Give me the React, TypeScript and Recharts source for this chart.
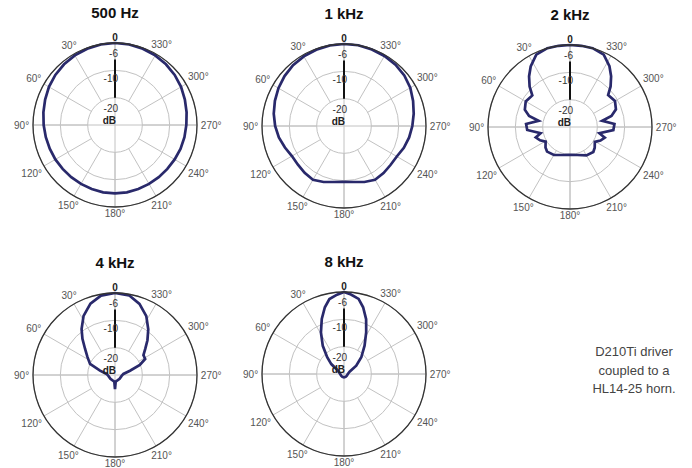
import React from "react";
import { RadarChart, Radar, PolarGrid, PolarAngleAxis, PolarRadiusAxis } from "recharts";

// angle ticks (deg, counter-clockwise from the top) and dB scale
const angleTicks = [0, 30, 60, 90, 120, 150, 180, 210, 240, 270, 300, 330];
const crossTicks = [0, 90, 180, 270];
const ringTicks = [-20, -10, 0];
const dbTicks = [-20, -10, -6];
const dbDomain = [-20, 0];

const angles10 = [
  0, 10, 20, 30, 40, 50, 60, 70, 80, 90, 100, 110, 120, 130, 140, 150, 160, 170,
  180, 190, 200, 210, 220, 230, 240, 250, 260, 270, 280, 290, 300, 310, 320, 330, 340, 350,
];

const db500 = [
  0, -0.1, -0.3, -0.6, -1.0, -1.5, -2.1, -2.8, -3.4, -3.9, -4.3, -4.6, -4.8, -5.0, -5.1, -5.1, -5.1, -5.0,
  -5.0, -5.0, -5.1, -5.1, -5.1, -5.0, -4.8, -4.5, -4.2, -3.9, -3.4, -2.8, -2.1, -1.5, -1.0, -0.6, -0.3, -0.1,
];

const db1k = [
  0, -0.1, -0.3, -0.6, -1.0, -1.6, -2.3, -3.1, -3.9, -4.8, -5.8, -7.0, -8.0, -8.0, -7.6, -7.3, -8.2, -9.2,
  -9.6, -9.2, -8.2, -7.3, -7.5, -7.8, -7.7, -6.7, -5.8, -5.0, -4.1, -3.1, -2.0, -1.2, -0.7, -0.4, -0.2, 0,
];

const angles2k = [
  0, 8, 16, 25, 33, 39, 45, 50, 60, 69, 75, 79, 86, 94, 102, 107, 114, 121, 130, 137, 150, 165,
  180, 195, 210, 223, 230, 239, 246, 253, 258, 266, 274, 281, 285, 291, 300, 310, 315, 321, 327, 335, 344, 352,
];
const db2k = [
  0, 0, 0, -0.8, -3.6, -6.2, -9.1, -12.0, -11.3, -12.3, -14.5, -18.3, -13.9, -14.3, -19.0, -16.9, -18.0, -19.6, -18.3, -17.7, -18.2, -19.4,
  -19.8, -19.4, -18.0, -17.5, -18.2, -19.4, -17.8, -16.7, -19.0, -14.1, -13.7, -18.0, -14.3, -12.0, -11.0, -11.8, -9.0, -6.1, -3.5, -0.8, 0, 0,
];

const angles4k = [
  0, 10, 19, 28, 36, 42, 49, 57, 66, 74, 83, 100, 130, 160, 174, 180,
  186, 200, 230, 260, 277, 286, 292, 298, 305, 311, 317, 324, 332, 341, 350,
];
const db4k = [
  0, -0.5, -2.4, -5.5, -9.2, -12.2, -15.5, -18.0, -20.0, -24.3, -26.9, -27.6, -27.8, -27.8, -27.6, -24.8,
  -27.6, -27.8, -27.8, -27.6, -26.9, -24.3, -20.2, -17.5, -17.3, -15.3, -12.6, -9.3, -5.6, -2.5, -0.4,
];

const angles8k = [
  0, 5, 11, 16, 22, 29, 37, 45, 52, 61, 90, 120, 150,
  180, 210, 240, 270, 292, 304, 314, 324, 332, 338, 344, 349, 355,
];
const db8k = [
  0, -0.85, -2.05, -4.6, -8.3, -12.6, -17.1, -21.3, -24.1, -27.5, -28.6, -28.8, -28.8,
  -28.8, -28.8, -28.8, -28.6, -27.8, -24.6, -21.2, -17.2, -12.7, -8.4, -4.6, -2.0, -0.8,
];

const noteLines = ["D210Ti driver", "coupled to a", "HL14-25 horn."];

const W = 230;
const H = 240;
const CX = 115;
const CY = 125;
const R = 82;
const R_IN = R / 3;
const FONT = "Arial, 'Liberation Sans', sans-serif";
const GRID = "#c2c2c2";
const TRACE = "#29296b";
const noMargin = { top: 0, right: 0, bottom: 0, left: 0 };

const toRows = (angles: number[], values: number[]) =>
  angles.map((a, i) => ({ angle: a, db: values[i] }));

function AngleTick(props: any) {
  const { x, y, payload } = props;
  const v = payload.value;
  const label = v === 0 ? "0" : `${v}°`;
  const rad = (payload.coordinate * Math.PI) / 180;
  const ux = Math.cos(rad);
  const uy = -Math.sin(rad);
  const off = Math.abs(ux) * label.length * 2.8 + Math.abs(uy) * 3;
  return (
    <text
      x={x + ux * off}
      y={y + uy * off}
      textAnchor="middle"
      dominantBaseline="central"
      fontSize={10}
      fontFamily={FONT}
      fontWeight={v === 0 ? "bold" : "normal"}
      fill={v === 0 ? "#222" : "#555"}
    >
      {label}
    </text>
  );
}

function DbTick(props: any) {
  const { x, y, payload } = props;
  const v = payload.value;
  const dy = v === -6 ? -6 : v === -10 ? 8 : 11;
  return (
    <g>
      <text x={x + 3} y={y + dy} textAnchor="end" dominantBaseline="central" fontSize={10} fontFamily={FONT} fill="#333">
        {v}
      </text>
      {v === -20 && (
        <text x={x + 1} y={y + dy + 12} textAnchor="end" dominantBaseline="central" fontSize={10} fontWeight="bold" fontFamily={FONT} fill="#222">
          dB
        </text>
      )}
    </g>
  );
}

function PolarPlot({ title, rows, left, top }: { title: string; rows: any[]; left: number; top: number }) {
  return (
    <div style={{ position: "absolute", left, top, width: W, height: H }}>
      <div style={{ position: "absolute", left: 0, top: 0 }}>
        <RadarChart width={W} height={H} data={rows} cx={CX} cy={CY} outerRadius={R} innerRadius={0}
          startAngle={90} endAngle={450} margin={noMargin}>
          <PolarGrid gridType="circle" polarRadius={[]} stroke={GRID} />
          <PolarAngleAxis dataKey="angle" type="number" domain={[0, 360]} ticks={crossTicks} tick={false} tickLine={false} axisLine={false} />
          <PolarRadiusAxis domain={dbDomain} allowDataOverflow tick={false} axisLine={false} />
        </RadarChart>
      </div>
      <div style={{ position: "absolute", left: 0, top: 0 }}>
        <RadarChart width={W} height={H} data={rows} cx={CX} cy={CY} outerRadius={R} innerRadius={R_IN}
          startAngle={90} endAngle={450} margin={noMargin}>
          <PolarGrid gridType="circle" stroke={GRID} />
          <PolarAngleAxis dataKey="angle" type="number" domain={[0, 360]} ticks={angleTicks}
            tick={<AngleTick />} tickSize={3} tickLine={false} axisLineType="circle"
            axisLine={{ stroke: "#333", strokeWidth: 1.3 }} />
          <PolarRadiusAxis domain={dbDomain} ticks={ringTicks} allowDataOverflow tick={false} axisLine={false} />
          <PolarRadiusAxis radiusAxisId="lab" angle={90} domain={dbDomain} ticks={dbTicks} allowDataOverflow
            tick={<DbTick />} tickLine={false} axisLine={{ stroke: "#111", strokeWidth: 2 }} />
          <Radar dataKey="db" stroke={TRACE} strokeWidth={2.7} fill="none" fillOpacity={0} dot={false} isAnimationActive={false} />
        </RadarChart>
      </div>
      <div style={{ position: "absolute", left: CX - 60, width: 120, top: 4, textAlign: "center",
        fontFamily: FONT, fontWeight: "bold", fontSize: 15, color: "#111", lineHeight: "18px" }}>
        {title}
      </div>
    </div>
  );
}

export default function App() {
  return (
    <div style={{ position: "absolute", left: 0, top: 0, width: 692, height: 468, background: "#fff", overflow: "hidden" }}>
      <PolarPlot title="500 Hz" rows={toRows(angles10, db500)} left={0} top={0} />
      <PolarPlot title="1 kHz" rows={toRows(angles10, db1k)} left={229} top={1} />
      <PolarPlot title="2 kHz" rows={toRows(angles2k, db2k)} left={455} top={2} />
      <PolarPlot title="4 kHz" rows={toRows(angles4k, db4k)} left={0} top={250} />
      <PolarPlot title="8 kHz" rows={toRows(angles8k, db8k)} left={229} top={249} />
      <div style={{ position: "absolute", left: 578, top: 343, width: 112, textAlign: "center",
        fontFamily: FONT, fontSize: 13, color: "#444", lineHeight: "18.5px" }}>
        {noteLines.map((t) => (
          <div key={t}>{t}</div>
        ))}
      </div>
    </div>
  );
}
